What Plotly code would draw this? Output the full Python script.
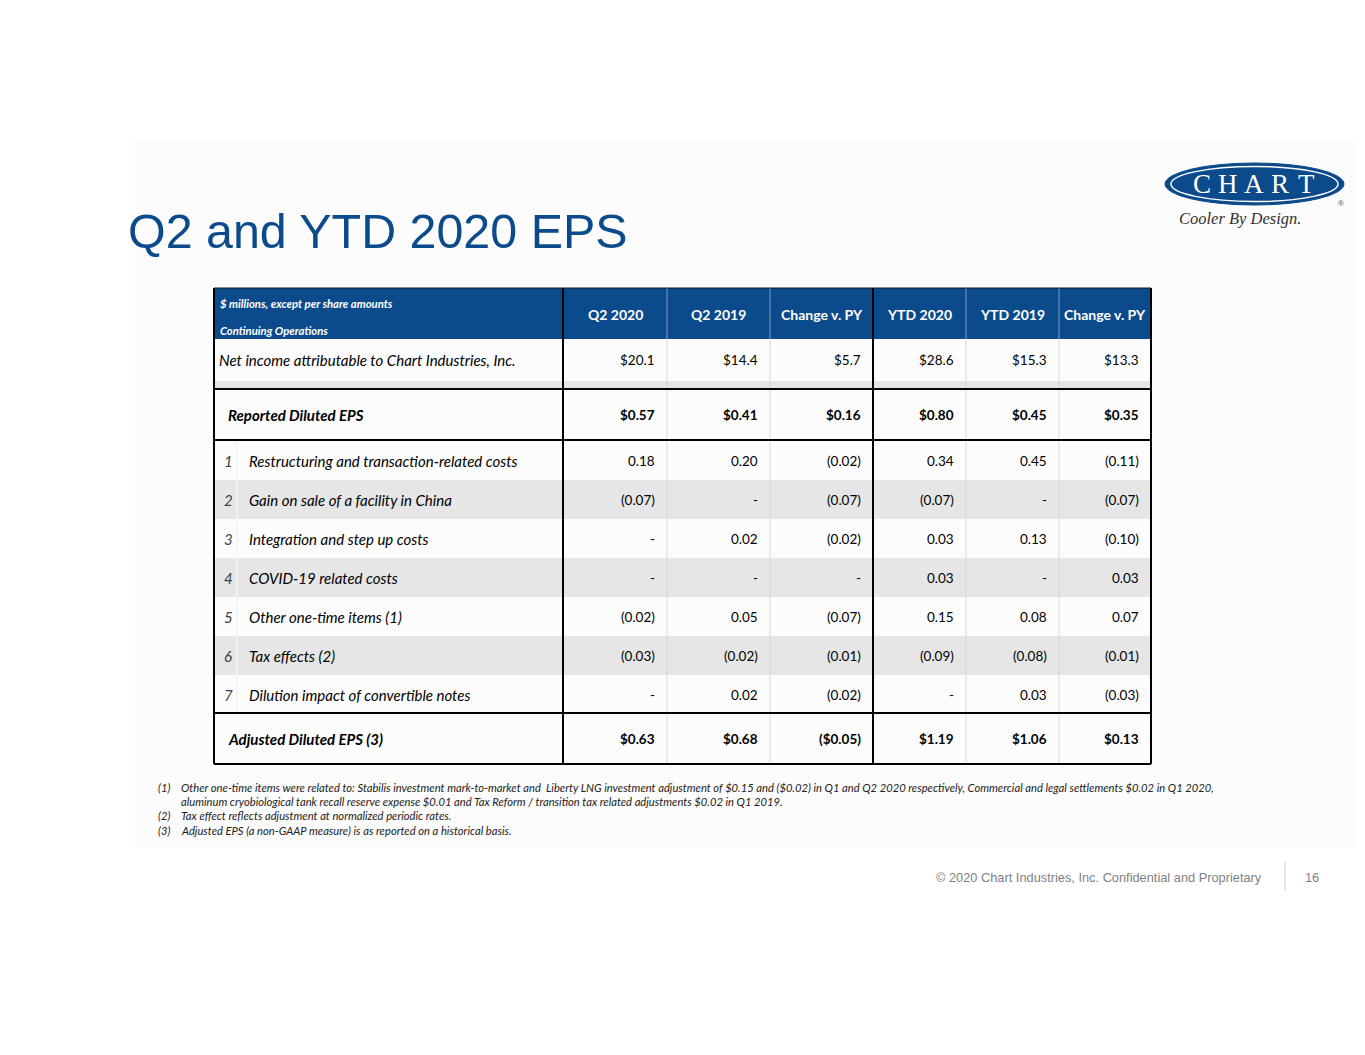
import plotly.graph_objects as go

W, H = 1365, 1055
PAGE_MARGIN = 8  # default body margin of the html page

# ---- data ----
columns = ["Q2 2020", "Q2 2019", "Change v. PY", "YTD 2020", "YTD 2019", "Change v. PY"]

net_income = [20.1, 14.4, 5.7, 28.6, 15.3, 13.3]
reported_eps = [0.57, 0.41, 0.16, 0.80, 0.45, 0.35]

item_labels = [
    "Restructuring and transaction-related costs",
    "Gain on sale of a facility in China",
    "Integration and step up costs",
    "COVID-19 related costs",
    "Other one-time items (1)",
    "Tax effects (2)",
    "Dilution impact of convertible notes",
]
restructuring = [0.18, 0.20, -0.02, 0.34, 0.45, -0.11]
gain_on_sale = [-0.07, None, -0.07, -0.07, None, -0.07]
integration = [None, 0.02, -0.02, 0.03, 0.13, -0.10]
covid = [None, None, None, 0.03, None, 0.03]
other_items = [-0.02, 0.05, -0.07, 0.15, 0.08, 0.07]
tax_effects = [-0.03, -0.02, -0.01, -0.09, -0.08, -0.01]
dilution = [None, 0.02, -0.02, None, 0.03, -0.03]
item_values = [restructuring, gain_on_sale, integration, covid, other_items, tax_effects, dilution]

adjusted_eps = [0.63, 0.68, -0.05, 1.19, 1.06, 0.13]

footnotes = [
    ("(1)", "Other one-time items were related to: Stabilis investment mark-to-market and  Liberty LNG investment adjustment of $0.15 "
            "and ($0.02) in Q1 and Q2 2020 respectively, Commercial and legal settlements $0.02 in Q1 2020,"),
    ("", "aluminum cryobiological tank recall reserve expense $0.01 and Tax Reform / transition tax related adjustments $0.02 in Q1 2019."),
    ("(2)", "Tax effect reflects adjustment at normalized periodic rates."),
    ("(3)", "Adjusted EPS (a non-GAAP measure) is as reported on a historical basis."),
]

# ---- styling ----
BLUE = "#0b4a8b"
GRAY_BAND = "#e6e6e6"
FONT = "Lato"

col_edges = [214, 563, 667, 770, 873, 966, 1059, 1151]
thick_cols = [214, 563, 873, 1151]
thin_cols = [667, 770, 966, 1059]


def fmt(v, digits=2, dollar=False):
    if v is None:
        return "-"
    s = f"{'$' if dollar else ''}{abs(v):.{digits}f}"
    return f"({s})" if v < 0 else s


shapes = []
annotations = []


def rect(x0, y0, x1, y1, fill, line_color=None, lw=0):
    shapes.append(dict(type="rect", xref="x", yref="y", x0=x0, y0=y0, x1=x1, y1=y1,
                       fillcolor=fill, line=dict(color=line_color or fill, width=lw), layer="below"))


def line(x0, y0, x1, y1, color, width=1):
    shapes.append(dict(type="line", xref="x", yref="y", x0=x0, y0=y0, x1=x1, y1=y1,
                       line=dict(color=color, width=width)))


def text(x, y, s, size, color="#000000", anchor="left", bold=False, italic=False, family=FONT):
    annotations.append(dict(x=x, y=y, xref="x", yref="y", text=s, showarrow=False,
                            xanchor=anchor, yanchor="middle",
                            font=dict(family=family, size=size, color=color,
                                      weight="bold" if bold else "normal",
                                      style="italic" if italic else "normal")))


# faint background panel of the pasted table image
rect(130, 140, W, 848, "#fcfcfc")

# title
text(126, 231, "Q2 and YTD 2020 EPS", 48.4, BLUE, family="Liberation Sans, Arial")

# logo
shapes.append(dict(type="circle", xref="x", yref="y", x0=1165, y0=163, x1=1344, y1=205,
                   fillcolor=BLUE, line=dict(color=BLUE, width=1)))
shapes.append(dict(type="circle", xref="x", yref="y", x0=1171, y0=166.5, x1=1338, y1=201.5,
                   fillcolor="rgba(0,0,0,0)", line=dict(color="white", width=1.5)))
for i, ch in enumerate("CHART"):
    text(1202 + i * 26, 184, ch, 27, "white", anchor="center", family="Liberation Serif, Times New Roman")
text(1240, 218, "Cooler By Design.", 16.5, "#333333", anchor="center", italic=True,
     family="Liberation Serif, Times New Roman")
text(1341, 203, "®", 8, "#555555", anchor="center", family="Liberation Sans, Arial")

# table rows
header_y = (288, 339)
net_y = (339, 381)
gap_y = (381, 389)
reported_y = (389, 440)
item_top, item_h = 441, 39
adjusted_y = (713, 764)
left, right = col_edges[0], col_edges[-1]

rect(left, header_y[0], right, header_y[1], BLUE)
rect(left, gap_y[0], right, gap_y[1], GRAY_BAND)
for i in range(len(item_labels)):
    if i % 2 == 1:
        y0 = item_top + i * item_h
        rect(left, y0, right, y0 + item_h, GRAY_BAND)

# grid lines
for x in thin_cols:
    line(x, header_y[0], x, header_y[1], "#7f9fc6", 1)
    line(x, header_y[1], x, adjusted_y[1], "#d9d9d9", 1)
line(237, item_top, 237, adjusted_y[0], "#f4f4f4", 1.5)
for y in (reported_y[0], reported_y[1], adjusted_y[0], adjusted_y[1]):
    line(left, y, right, y, "#000000", 2)
line(left, header_y[0], right, header_y[0], "#1a1a1a", 1)
for x in thick_cols:
    line(x, header_y[0], x, adjusted_y[1], "#000000", 2)

# header text
text(218, 303, "$ millions, except per share amounts", 11.3, "white", bold=True, italic=True)
text(218, 330, "Continuing Operations", 11.3, "white", bold=True, italic=True)
for j, c in enumerate(columns):
    text((col_edges[j + 1] + col_edges[j + 2]) / 2, 314, c, 14, "white", anchor="center", bold=True)

LABEL_SIZE = 15
VALUE_SIZE = 13.5


def value_row(vals, yc, bold=False, digits=2, dollar=False):
    for j, v in enumerate(vals):
        text(col_edges[j + 2] - 10, yc, fmt(v, digits, dollar), VALUE_SIZE, anchor="right", bold=bold)


# net income
yc = sum(net_y) / 2
text(217, yc, "Net income attributable to Chart Industries, Inc.", LABEL_SIZE, italic=True)
value_row(net_income, yc, digits=1, dollar=True)

# reported EPS
yc = sum(reported_y) / 2
text(226, yc, "Reported Diluted EPS", LABEL_SIZE, bold=True, italic=True)
value_row(reported_eps, yc, bold=True, dollar=True)

# adjustment items
for i, (lab, vals) in enumerate(zip(item_labels, item_values)):
    yc = item_top + i * item_h + item_h / 2
    text(228, yc, str(i + 1), LABEL_SIZE, "#404040", anchor="center", italic=True)
    text(247, yc, lab, LABEL_SIZE, italic=True)
    value_row(vals, yc)

# adjusted EPS
yc = sum(adjusted_y) / 2
text(226, yc, "Adjusted Diluted EPS (3)", LABEL_SIZE, bold=True, italic=True)
value_row(adjusted_eps, yc, bold=True, dollar=True)

# footnotes
for k, (num, note) in enumerate(footnotes):
    yc = 787 + k * 14.4
    if num:
        text(156, yc, num, 11.2, "#222222", italic=True)
    text(179, yc, note, 11.2, "#222222", italic=True)

# footer
text(1264, 877, "© 2020 Chart Industries, Inc. Confidential and Proprietary", 12.8, "#7f7f7f",
     anchor="right", family="Liberation Sans, Arial")
line(1285, 862, 1285, 891, "#d0d0d0", 1)
text(1312, 877, "16", 12.8, "#7f7f7f", anchor="center", family="Liberation Sans, Arial")

fig = go.Figure()
fig.update_layout(
    width=W - 2 * PAGE_MARGIN, height=H - 2 * PAGE_MARGIN,
    margin=dict(l=0, r=0, t=0, b=0),
    paper_bgcolor="white", plot_bgcolor="white",
    xaxis=dict(range=[PAGE_MARGIN, W - PAGE_MARGIN], visible=False, fixedrange=True),
    yaxis=dict(range=[H - PAGE_MARGIN, PAGE_MARGIN], visible=False, fixedrange=True),
    shapes=shapes, annotations=annotations,
    showlegend=False,
)
fig.write_html("out.html")
